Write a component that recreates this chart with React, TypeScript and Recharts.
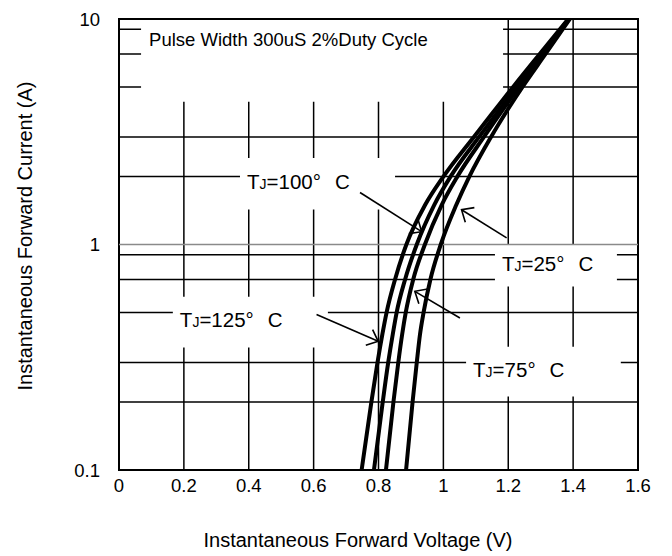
import React from 'react';
import {
  LineChart,
  Line,
  XAxis,
  YAxis,
  CartesianGrid,
  ReferenceArea,
  ReferenceLine,
  Label,
} from 'recharts';

// forward current (A), shared by all four curves
const CURRENT = [0.1, 0.2, 0.3, 0.4, 0.5, 0.7, 1, 1.5, 2, 3, 4, 5, 7, 10];

// forward voltage (V) at each current
const VF_125C = [0.748, 0.778, 0.797, 0.812, 0.825, 0.851, 0.886, 0.944, 1.0, 1.094, 1.162, 1.215, 1.297, 1.385];
const VF_100C = [0.786, 0.813, 0.83, 0.844, 0.856, 0.882, 0.918, 0.972, 1.022, 1.11, 1.175, 1.226, 1.305, 1.386];
const VF_75C = [0.823, 0.846, 0.861, 0.873, 0.884, 0.907, 0.943, 0.995, 1.043, 1.125, 1.185, 1.233, 1.308, 1.387];
const VF_25C = [0.885, 0.905, 0.918, 0.928, 0.939, 0.96, 0.992, 1.04, 1.08, 1.147, 1.2, 1.244, 1.315, 1.39];

const X_TICKS = [0, 0.2, 0.4, 0.6, 0.8, 1, 1.2, 1.4, 1.6];
const X_GRID = [0.2, 0.4, 0.6, 0.8, 1, 1.2, 1.4];
const Y_TICKS = [0.1, 1, 10];
const Y_GRID = [0.2, 0.3, 0.4, 0.5, 0.6, 0.7, 0.8, 0.9, 2, 3, 4, 5, 6, 7, 8, 9];

const SERIES = [
  { temp: '125', vf: VF_125C },
  { temp: '100', vf: VF_100C },
  { temp: '75', vf: VF_75C },
  { temp: '25', vf: VF_25C },
];

// callouts: white box (V range, A range) + arrow (from -> tip), all in data units
const CALLOUTS = [
  { temp: '100', box: [0.373, 0.851, 1.43, 2.42], from: [0.743, 1.7], tip: [0.933, 1.14] },
  { temp: '25', box: [1.159, 1.535, 0.652, 0.998], from: [1.195, 1.07], tip: [1.056, 1.426] },
  { temp: '125', box: [0.166, 0.644, 0.349, 0.587], from: [0.609, 0.489], tip: [0.799, 0.372] },
  { temp: '75', box: [1.07, 1.547, 0.212, 0.352], from: [1.051, 0.472], tip: [0.912, 0.62] },
];

const FONT = '"Liberation Sans", Arial, sans-serif';

function Arrow(props: any) {
  const { x1, y1, x2, y2 } = props;
  const ang = Math.atan2(y1 - y2, x1 - x2);
  const len = 13;
  const spread = 0.72;
  const ax = x2 + len * Math.cos(ang + spread);
  const ay = y2 + len * Math.sin(ang + spread);
  const bx = x2 + len * Math.cos(ang - spread);
  const by = y2 + len * Math.sin(ang - spread);
  return (
    <g stroke="#000" strokeWidth={1.6} fill="none">
      <line x1={x1} y1={y1} x2={x2} y2={y2} />
      <polyline points={`${ax},${ay} ${x2},${y2} ${bx},${by}`} />
    </g>
  );
}

function TjLabel({ viewBox, temp }: any) {
  const { x, y, height } = viewBox;
  const base = y + height / 2 + 5;
  return (
    <text x={x + 7} y={base} fontSize={20.5} fontFamily={FONT} fill="#000">
      T<tspan fontSize={14}>J</tspan>={temp}°<tspan dx={14}>C</tspan>
    </text>
  );
}

function PulseLabel({ viewBox }: any) {
  return (
    <text x={viewBox.x + 8} y={viewBox.y + 27} fontSize={18.5} fontFamily={FONT} fill="#000">
      Pulse Width 300uS 2%Duty Cycle
    </text>
  );
}

export default function App() {
  return (
    <div style={{ position: 'absolute', left: 0, top: 0, background: '#fff' }}>
      <LineChart width={672} height={556} margin={{ top: 19, right: 34, bottom: 0, left: 0 }}>
        <CartesianGrid
          stroke="#000"
          strokeWidth={1.5}
          horizontalValues={Y_GRID}
          verticalValues={X_GRID}
        />
        <XAxis
          type="number"
          dataKey="v"
          domain={[0, 1.6]}
          ticks={X_TICKS}
          height={86}
          axisLine={false}
          tickLine={false}
          tickSize={0}
          tickMargin={9}
          tick={{ fill: '#000', fontSize: 18.5, fontFamily: FONT }}
        >
          <Label
            content={() => (
              <text x={358} y={547} textAnchor="middle" fontSize={20} fontFamily={FONT} fill="#000">
                Instantaneous Forward Voltage (V)
              </text>
            )}
          />
        </XAxis>
        {/* short inward ticks along the top frame */}
        <XAxis
          xAxisId="top"
          orientation="top"
          type="number"
          domain={[0, 1.6]}
          ticks={X_GRID}
          mirror
          axisLine={false}
          tickSize={4}
          tickLine={{ stroke: '#000', strokeWidth: 1.5 }}
          tickFormatter={() => ''}
        />
        <YAxis
          type="number"
          scale="log"
          domain={[0.1, 10]}
          allowDataOverflow
          ticks={Y_TICKS}
          width={119}
          axisLine={false}
          tickLine={false}
          tickSize={0}
          tickMargin={19}
          tick={{ fill: '#000', fontSize: 18.5, fontFamily: FONT }}
        >
          <Label
            content={() => (
              <text
                x={25}
                y={236}
                transform="rotate(-90 25 236)"
                textAnchor="middle"
                dominantBaseline="central"
                fontSize={20}
                fontFamily={FONT}
                fill="#000"
              >
                Instantaneous Forward Current (A)
              </text>
            )}
          />
        </YAxis>

        {/* white patches behind the text, hiding the grid */}
        <ReferenceArea
          x1={0.068}
          x2={1.184}
          y1={4.3}
          y2={10}
          fill="#fff"
          fillOpacity={1}
          stroke="none"
          label={<PulseLabel />}
        />
        {CALLOUTS.map((c) => (
          <ReferenceArea
            key={`box-${c.temp}`}
            x1={c.box[0]}
            x2={c.box[1]}
            y1={c.box[2]}
            y2={c.box[3]}
            fill="#fff"
            fillOpacity={1}
            stroke="none"
            label={<TjLabel temp={c.temp} />}
          />
        ))}

        <ReferenceLine y={1} stroke="#8a8a8a" strokeWidth={1.5} />

        {CALLOUTS.map((c) => (
          <ReferenceLine
            key={`arrow-${c.temp}`}
            segment={[
              { x: c.from[0], y: c.from[1] },
              { x: c.tip[0], y: c.tip[1] },
            ]}
            shape={(p: any) => <Arrow {...p} />}
          />
        ))}

        {/* plot frame */}
        <ReferenceArea
          x1={0}
          x2={1.6}
          y1={0.1}
          y2={10}
          fill="none"
          stroke="#000"
          strokeWidth={2}
          ifOverflow="visible"
        />

        {SERIES.map((s) => (
          <Line
            key={s.temp}
            data={CURRENT.map((i, k) => ({ v: s.vf[k], i }))}
            dataKey="i"
            type="monotone"
            stroke="#000"
            strokeWidth={4}
            dot={false}
            activeDot={false}
            isAnimationActive={false}
          />
        ))}
      </LineChart>
    </div>
  );
}
